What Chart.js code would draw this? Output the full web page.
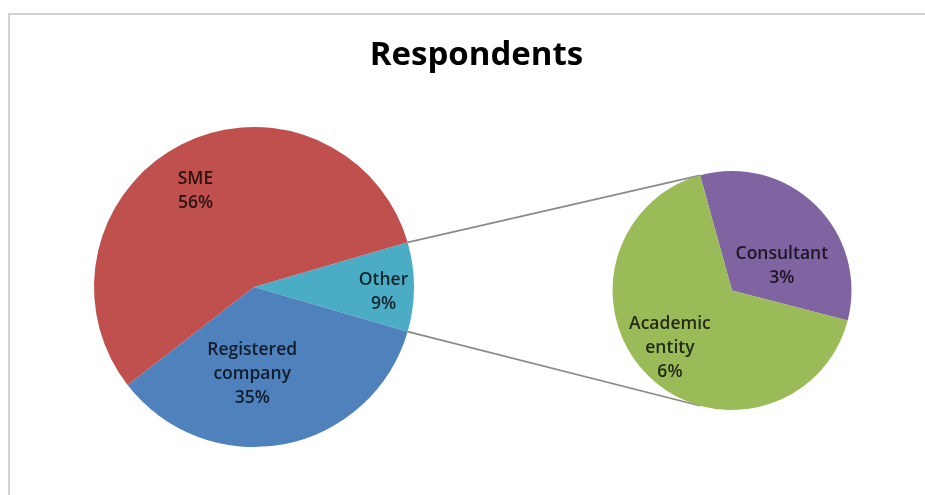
<!DOCTYPE html>
<html>
<head>
<meta charset="utf-8">
<title>Respondents</title>
<script src="https://cdn.jsdelivr.net/npm/chart.js@4.4.1/dist/chart.umd.min.js"></script>
<style>
  html, body { margin: 0; padding: 0; background: #ffffff; }
  #wrap { position: relative; width: 925px; height: 495px; overflow: hidden; background: #ffffff; }
  #frame {
    position: absolute; left: 8px; top: 13px; width: 960px; height: 520px;
    border-top: 2px solid #d2d2d2; border-left: 2px solid #d2d2d2;
  }
  canvas { position: absolute; left: 0; top: 0; }
</style>
</head>
<body>
<div id="wrap">
  <div id="frame"></div>
  <canvas id="mainPie" width="925" height="495"></canvas>
  <canvas id="detailPie" width="925" height="495"></canvas>
</div>
<script>
// Survey respondents, shares in percent
const chartTitle = 'Respondents';
const mainCategories = ['Other', 'Registered company', 'SME'];
const mainValues = [9, 35, 56];
// Breakdown of the "Other" share
const splitCategory = 'Other';
const detailCategories = ['Consultant', 'Academic entity'];
const detailValues = [3, 6];

const sliceColors = {
  'SME': '#C0504D',
  'Registered company': '#4F81BD',
  'Other': '#4BACC6',
  'Academic entity': '#9BBB59',
  'Consultant': '#8064A2'
};

// Where each label sits: turn (deg) away from the slice middle, and fraction of the radius
const labelSpots = {
  'SME': { turn: -4, radius: 0.71 },
  'Registered company': { turn: 12, radius: 0.535 },
  'Other': { turn: 1.8, radius: 0.81 },
  'Consultant': { turn: 18, radius: 0.47 },
  'Academic entity': { turn: 3.4, radius: 0.70 }
};

const labelFont = '600 17.5px "Open Sans"';
const labelLineHeight = 24;
const labelCapHeight = 12.5;

const sliceLabels = {
  id: 'sliceLabels',
  afterDatasetsDraw(chart) {
    const ctx = chart.ctx;
    const meta = chart.getDatasetMeta(0);
    const values = chart.data.datasets[0].data;
    ctx.save();
    ctx.font = labelFont;
    ctx.fillStyle = 'rgba(0,0,0,0.78)';
    ctx.textAlign = 'center';
    ctx.textBaseline = 'alphabetic';
    meta.data.forEach((arc, i) => {
      const name = chart.data.labels[i];
      const spot = labelSpots[name];
      const mid = (arc.startAngle + arc.endAngle) / 2 + spot.turn * Math.PI / 180;
      const d = arc.outerRadius * spot.radius;
      const cx = arc.x + Math.cos(mid) * d;
      const cy = arc.y + Math.sin(mid) * d;
      const lines = name.split(' ').concat([values[i] + '%']);
      const n = lines.length;
      const first = cy - ((n - 1) * labelLineHeight - labelCapHeight) / 2;
      lines.forEach((t, k) => ctx.fillText(t, cx, first + k * labelLineHeight));
    });
    ctx.restore();
  }
};

const titleText = {
  id: 'titleText',
  afterDraw(chart) {
    const ctx = chart.ctx;
    ctx.save();
    ctx.font = 'bold 33px "Open Sans"';
    ctx.fillStyle = '#000000';
    ctx.textAlign = 'center';
    ctx.textBaseline = 'alphabetic';
    ctx.fillText(chartTitle, 476.5, 65);
    ctx.restore();
  }
};

function pieOptions(padding, rotation) {
  return {
    responsive: false,
    animation: false,
    events: [],
    devicePixelRatio: 1,
    rotation: rotation,
    layout: { padding: padding },
    plugins: {
      legend: { display: false },
      tooltip: { enabled: false },
      title: { display: false }
    }
  };
}

function draw() {
  const otherShare = mainValues[mainCategories.indexOf(splitCategory)];
  const mainTotal = mainValues.reduce((a, b) => a + b, 0);

  const mainChart = new Chart(document.getElementById('mainPie'), {
    type: 'pie',
    data: {
      labels: mainCategories,
      datasets: [{
        data: mainValues,
        backgroundColor: mainCategories.map(c => sliceColors[c]),
        borderWidth: 0
      }]
    },
    // split slice centred on the right-hand side
    options: pieOptions({ left: 94, right: 511, top: 127, bottom: 48 },
                        90 - (otherShare / mainTotal) * 180),
    plugins: [sliceLabels, titleText]
  });

  // Lines joining the split slice to the breakdown pie
  const connectors = {
    id: 'connectors',
    beforeDatasetsDraw(chart) {
      const src = mainChart.getDatasetMeta(0).data[mainCategories.indexOf(splitCategory)];
      const dst = chart.getDatasetMeta(0).data[0];
      const R = src.outerRadius, r = dst.outerRadius;
      const p1 = [src.x + R * Math.cos(src.startAngle), src.y + R * Math.sin(src.startAngle)];
      const p2 = [src.x + R * Math.cos(src.endAngle), src.y + R * Math.sin(src.endAngle)];
      const q1 = [dst.x + r * Math.cos(dst.startAngle), dst.y + r * Math.sin(dst.startAngle)];
      const q2 = [q1[0], dst.y - r * Math.sin(dst.startAngle)];
      const ctx = chart.ctx;
      ctx.save();
      ctx.strokeStyle = '#8a8a8a';
      ctx.lineWidth = 1.6;
      ctx.beginPath();
      ctx.moveTo(p1[0], p1[1]); ctx.lineTo(q1[0], q1[1]);
      ctx.moveTo(p2[0], p2[1]); ctx.lineTo(q2[0], q2[1]);
      ctx.stroke();
      ctx.restore();
    }
  };

  new Chart(document.getElementById('detailPie'), {
    type: 'pie',
    data: {
      labels: detailCategories,
      datasets: [{
        data: detailValues,
        backgroundColor: detailCategories.map(c => sliceColors[c]),
        borderWidth: 0
      }]
    },
    options: pieOptions({ left: 612, right: 73, top: 171, bottom: 85 }, -15.5),
    plugins: [connectors, sliceLabels]
  });
}

Promise.all([
  document.fonts.load('600 17.5px "Open Sans"'),
  document.fonts.load('bold 33px "Open Sans"')
]).catch(() => {}).then(draw);
</script>
</body>
</html>
